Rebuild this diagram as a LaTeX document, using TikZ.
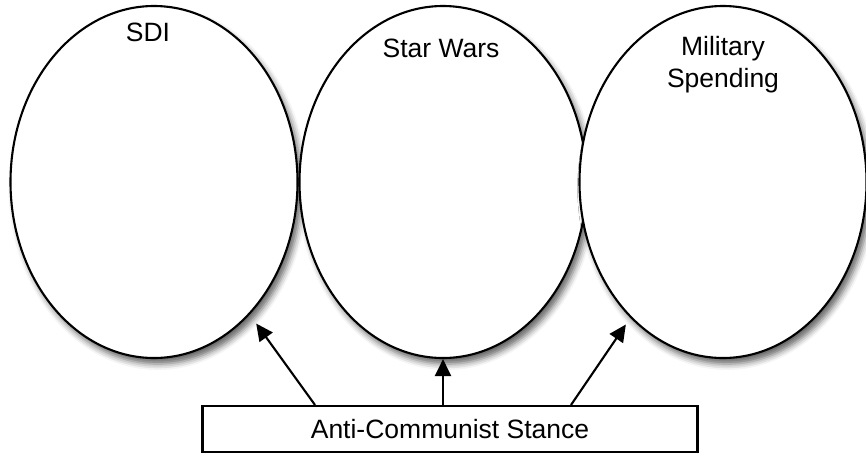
\documentclass[tikz,border=0pt]{standalone}
\usepackage{fontspec}
\setmainfont{Liberation Sans}
\usetikzlibrary{arrows.meta,calc,positioning,shapes.geometric,shadows.blur}

\begin{document}
\begin{tikzpicture}[
    x=1pt, y=-1pt,
    font=\fontsize{26.5}{32}\selectfont,
    topic/.style={ellipse, draw=black, line width=2.1pt, fill=white,
      minimum width=287pt, minimum height=352pt, inner sep=0pt,
      blur shadow={shadow xshift=4pt, shadow yshift=-6pt,
        shadow blur radius=6pt, shadow opacity=60}},
    heading/.style={align=center, inner sep=0pt},
    box/.style={draw=black, line width=2.1pt, fill=white,
      minimum width=495pt, minimum height=46pt},
    arrow/.style={-{Triangle[length=17pt, width=16pt]}, line width=2.1pt}
  ]
    \useasboundingbox (0,0) rectangle (866,455);

    \node[topic] (sdi) at (154,182) {};
    \node[topic] (starwars) at (443,182) {};
    \node[topic] (military) at (723,182) {};

    \node[heading] (sdilabel) at ([xshift=-6pt, yshift=-27pt]sdi.north) {SDI};
    \node[heading] (starwarslabel) at ([xshift=-2pt, yshift=-43pt]starwars.north) {Star Wars};
    \node[heading] (militarylabel) at ([yshift=-60pt]military.north) {Military\\Spending};

    \node[box] (stance) at (450,429) {Anti-Communist Stance};

    \draw[arrow, shorten >=11pt] ([xshift=-128pt]starwars.south |- stance.north) -- (sdi);
    \draw[arrow] (starwars.south |- stance.north) -- (starwars.south);
    \draw[arrow, shorten >=8pt] ([xshift=128pt]starwars.south |- stance.north) -- (military);
  \end{tikzpicture}
\end{document}
